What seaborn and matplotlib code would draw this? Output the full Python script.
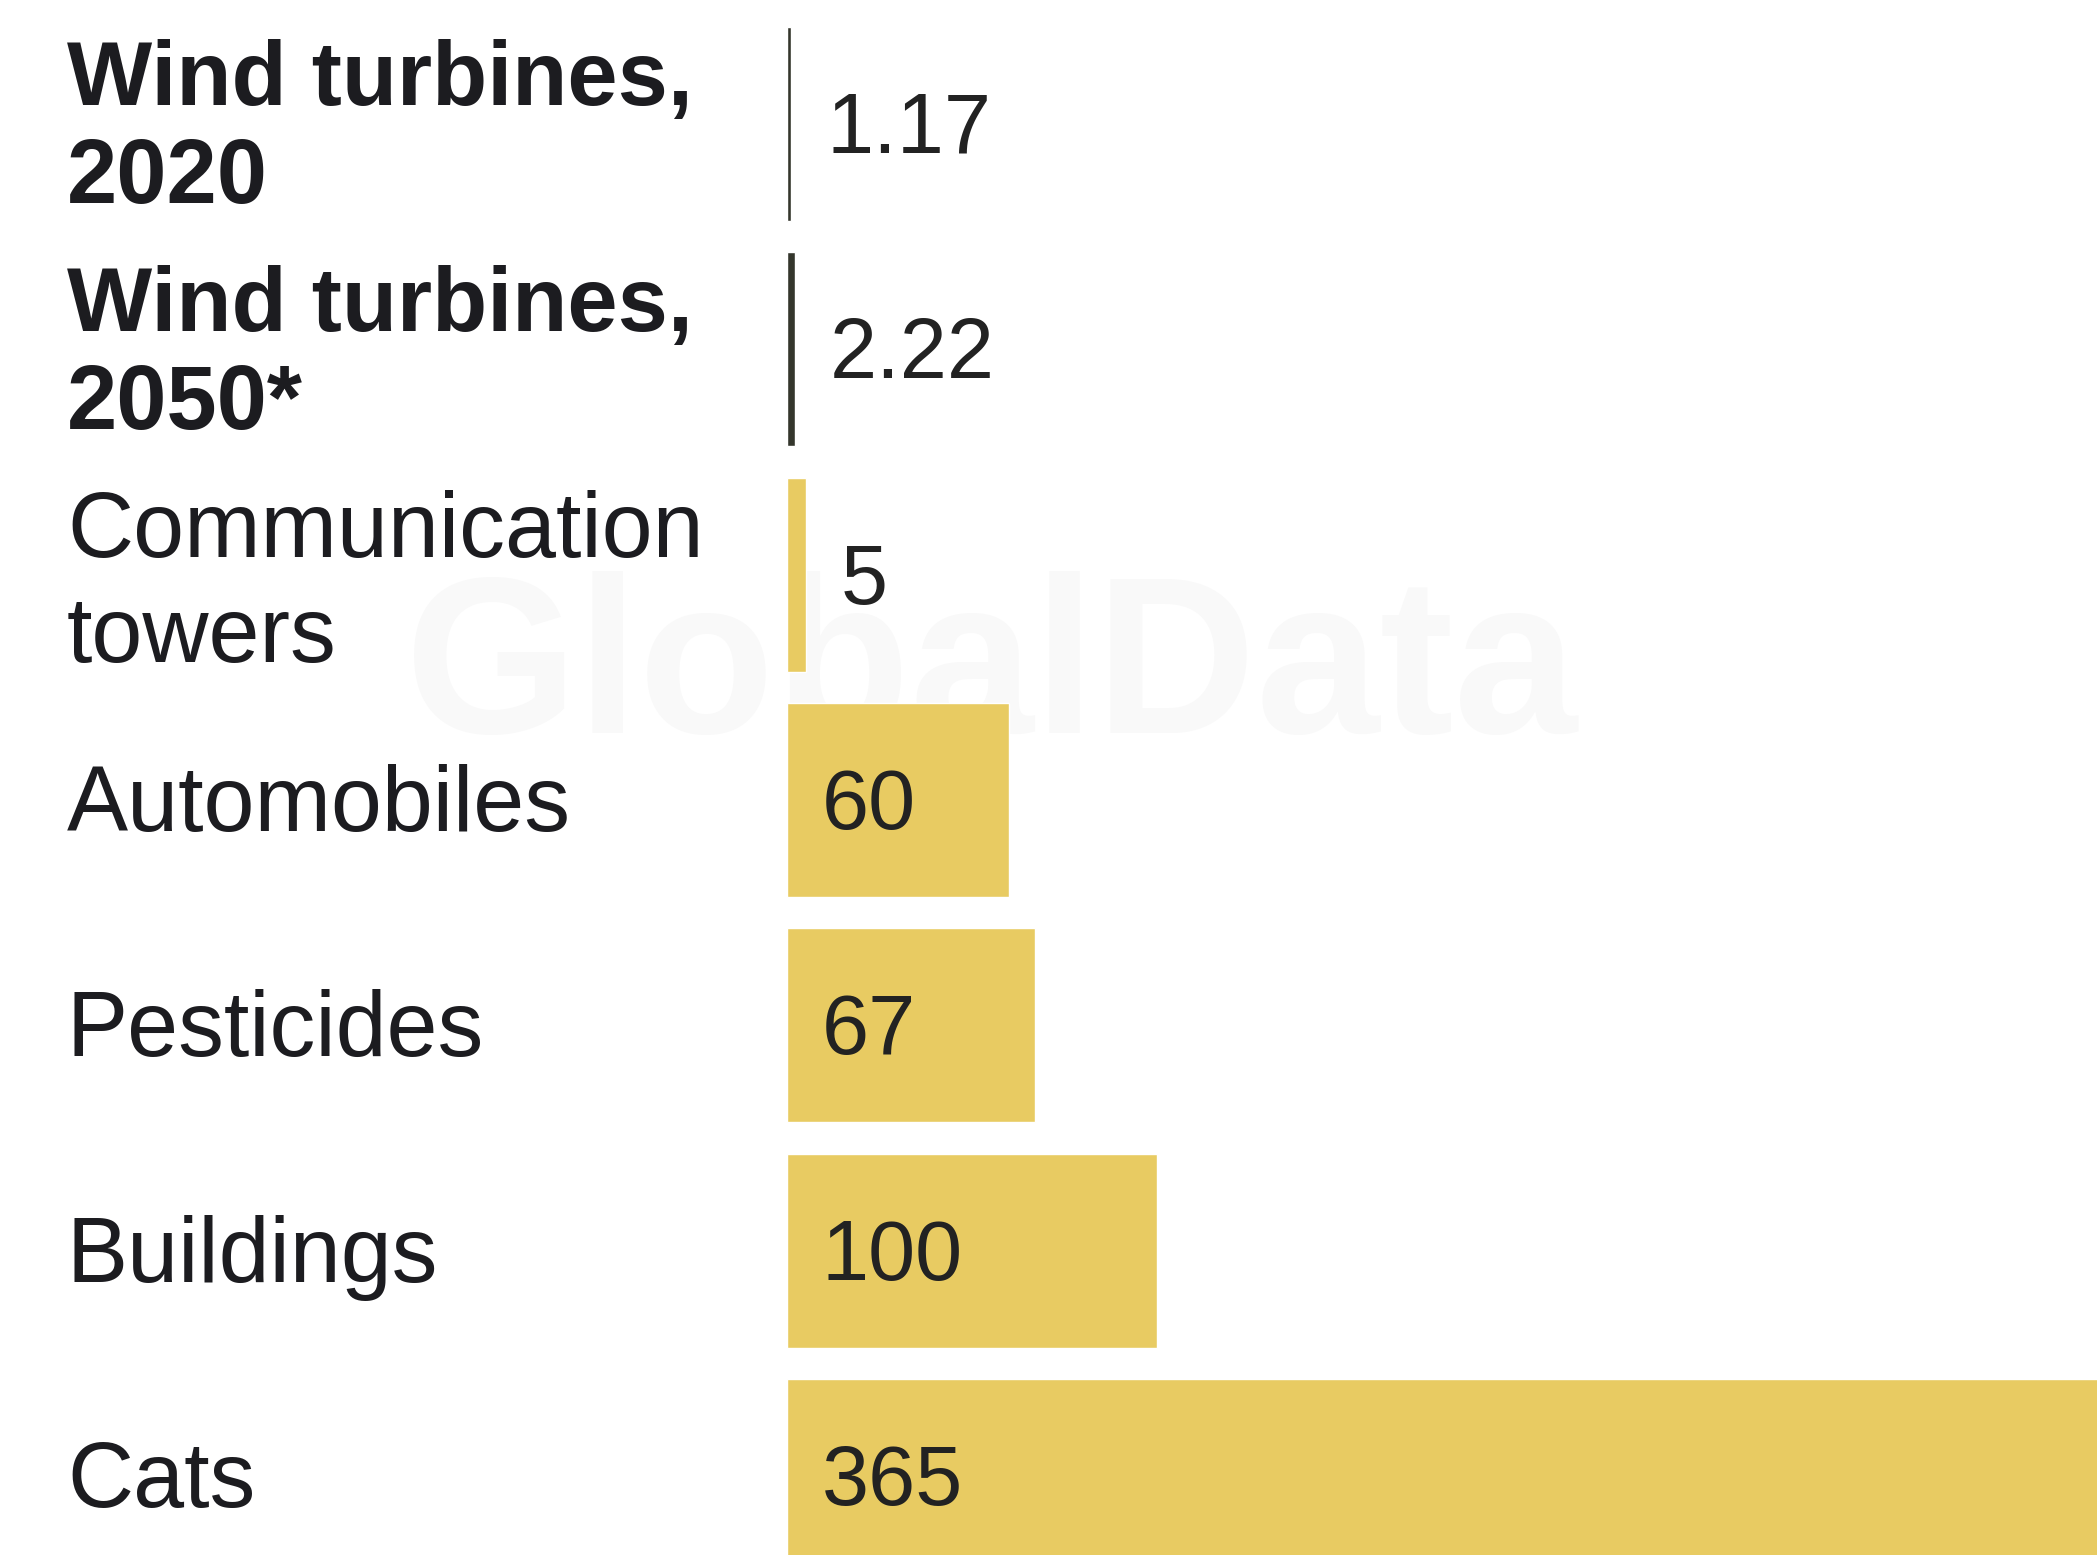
import matplotlib
matplotlib.use("Agg")
import matplotlib.pyplot as plt
import seaborn as sns
import pandas as pd

# Annual bird deaths by cause (millions)
categories = [
    "Wind turbines,\n2020",
    "Wind turbines,\n2050*",
    "Communication\ntowers",
    "Automobiles",
    "Pesticides",
    "Buildings",
    "Cats",
]
values = [1.17, 2.22, 5, 60, 67, 100, 365]
value_labels = ["1.17", "2.22", "5", "60", "67", "100", "365"]
highlight = [True, True, False, False, False, False, False]

DARK = "#34362c"
GOLD = "#e8cb62"
TEXT = "#1c1c20"

sns.set_theme(style="white")
plt.rcParams["font.family"] = ["Liberation Sans", "DejaVu Sans"]

df = pd.DataFrame({"cause": categories, "deaths": values})
palette = {c: (DARK if h else GOLD) for c, h in zip(categories, highlight)}

W, H, DPI = 2097, 1555, 100
fig = plt.figure(figsize=(W / DPI, H / DPI), dpi=DPI, facecolor="white")
left_px = 787
ax = fig.add_axes([left_px / W, 0, 1 - left_px / W, 1])
ax.patch.set_alpha(0)

# faint watermark behind the bars
ax.text(992 / W, 1 - 675 / H, "GlobalData", transform=fig.transFigure,
        ha="center", va="center", fontsize=160, fontweight="bold",
        color="#f9f9f9", zorder=0)

sns.barplot(data=df, x="deaths", y="cause", hue="cause", palette=palette,
            orient="h", width=0.86, legend=False, ax=ax, zorder=2,
            saturation=1)

ax.set_xlim(0, 354)
ax.set_ylim(6.35, -0.55)
ax.set_xlabel("")
ax.set_ylabel("")
ax.set_xticks([])
ax.set_yticks([])
sns.despine(ax=ax, left=True, bottom=True)

label_x = (67 - left_px) / (W - left_px)
for i, (cat, val, lab, hl) in enumerate(zip(categories, values, value_labels, highlight)):
    multiline = "\n" in cat
    dy = -8 if (multiline and not hl) else -5
    ax.annotate(cat, xy=(label_x, i), xycoords=ax.get_yaxis_transform(),
                xytext=(0, dy), textcoords="offset points",
                ha="left", va="center", fontsize=65 if hl else 66,
                fontweight="bold" if hl else "normal", color=TEXT,
                linespacing=1.2 if hl else 1.28, annotation_clip=False)
    anchor = val if val < 10 else 0
    ax.annotate(lab, xy=(anchor, i), xytext=(25, -5), textcoords="offset points",
                ha="left", va="center", fontsize=61, color="#222222", zorder=3)

fig.savefig("out.png", dpi=DPI, facecolor="white")
